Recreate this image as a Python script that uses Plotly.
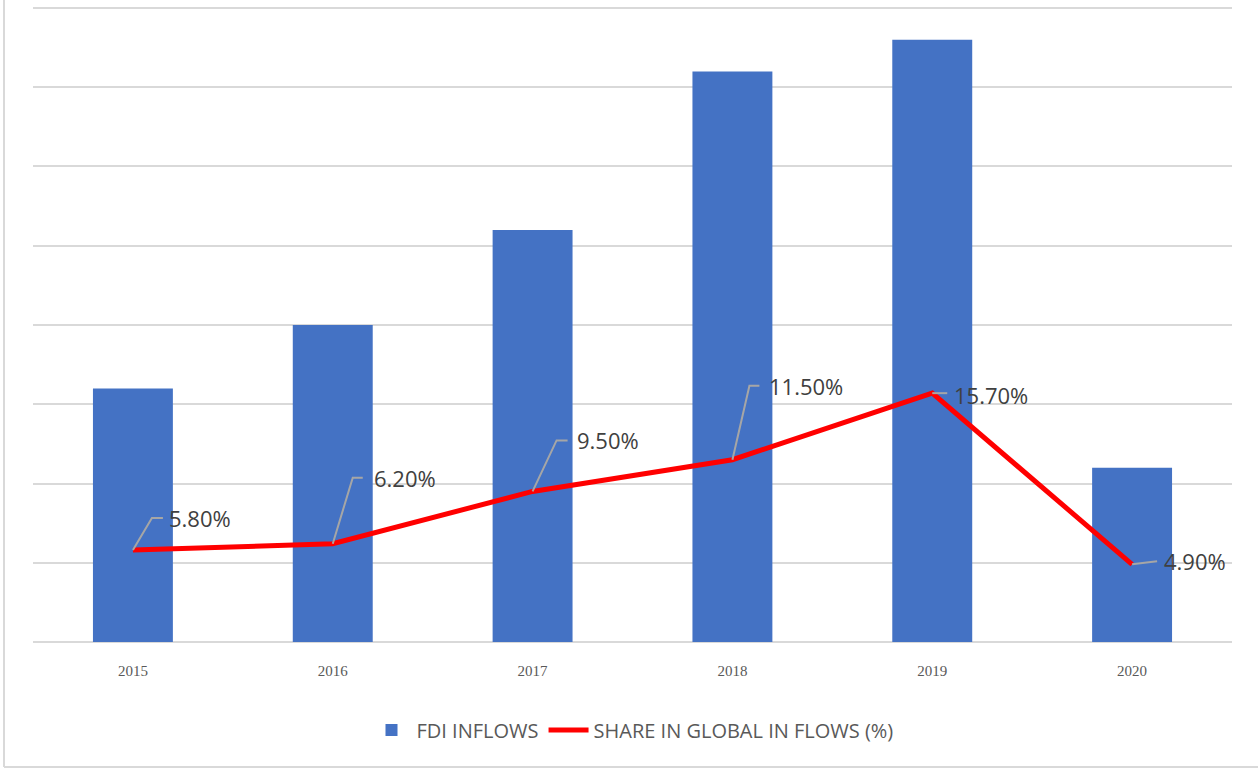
import plotly.graph_objects as go

# ---- data ----
years = ["2015", "2016", "2017", "2018", "2019", "2020"]
fdi_inflows = [32, 40, 52, 72, 76, 22]
share_pct = [5.8, 6.2, 9.5, 11.5, 15.7, 4.9]
share_labels = ["5.80%", "6.20%", "9.50%", "11.50%", "15.70%", "4.90%"]

# ---- label leader geometry (pixels, relative to point) ----
leader_dx = [19, 20, 24, 17, 0, 25]
leader_dy = [32, 66, 51, 74, 0, 3]
leader_h = [11, 10, 11, 10, 15, 0]
text_gap = [4, 9, 7, 8, 5, 5]
text_dy = [0, 0, 0, 0, -2, 0]

W, H = 1258, 769
ML, MR, MT, MB = 33, 26, 6, 127
PW, PH = W - ML - MR, H - MT - MB

xpos = list(range(len(years)))

fig = go.Figure()
fig.add_trace(go.Bar(
    x=xpos, y=fdi_inflows, name="FDI INFLOWS",
    marker=dict(color="#4472C4", line=dict(width=0)),
    yaxis="y",
))
fig.add_trace(go.Scatter(
    x=xpos, y=share_pct, name="SHARE IN GLOBAL IN FLOWS (%)",
    mode="lines", line=dict(color="#FF0000", width=5),
    yaxis="y2",
))

shapes = []
annotations = []
for i in xpos:
    dx, dy, h = leader_dx[i], leader_dy[i], leader_h[i]
    path = f"M0,0 L{dx},{dy} L{dx + h},{dy}"
    shapes.append(dict(
        type="path", xref="x", yref="y2",
        xsizemode="pixel", ysizemode="pixel",
        xanchor=i, yanchor=share_pct[i],
        path=path, line=dict(color="#A6A6A6", width=2),
        layer="above",
    ))
    annotations.append(dict(
        x=i, y=share_pct[i], xref="x", yref="y2",
        text=share_labels[i], showarrow=False,
        xanchor="left", yanchor="middle",
        xshift=dx + h + text_gap[i], yshift=dy + text_dy[i],
        font=dict(family="Open Sans", size=22, color="#404040"),
    ))

# outer frame (left and bottom edges of the chart area)
fx = (4 - ML) / PW
fy = (MT + PH - 767) / PH
ftop = (MT + PH) / PH
shapes.append(dict(type="line", xref="paper", yref="paper",
                   x0=fx, x1=fx, y0=fy, y1=ftop,
                   line=dict(color="#D9D9D9", width=2)))
shapes.append(dict(type="line", xref="paper", yref="paper",
                   x0=fx, x1=(W - ML) / PW, y0=fy, y1=fy,
                   line=dict(color="#D9D9D9", width=2)))

fig.update_layout(
    width=W, height=H,
    margin=dict(l=ML, r=MR, t=MT, b=MB),
    paper_bgcolor="white", plot_bgcolor="white",
    bargap=0.6,
    showlegend=True,
    legend=dict(
        orientation="h", x=0.5, xanchor="center",
        y=(MT + PH - 730) / PH, yanchor="middle",
        font=dict(family="Open Sans", size=20, color="#595959"),
        itemwidth=40, tracegroupgap=0,
    ),
    xaxis=dict(
        type="linear", range=[-0.5, len(years) - 0.5],
        tickmode="array", tickvals=xpos, ticktext=years,
        showgrid=False, zeroline=False, showline=False, ticks="",
        ticklabelstandoff=18,
        tickfont=dict(family="Liberation Serif", size=15, color="#595959"),
    ),
    yaxis=dict(
        range=[0, 80.25], dtick=10, showgrid=True, gridcolor="#D9D9D9",
        gridwidth=2, showticklabels=False,
        zeroline=True, zerolinecolor="#D9D9D9", zerolinewidth=2,
        showline=False, ticks="",
    ),
    yaxis2=dict(
        range=[0, 40.125], overlaying="y", side="right",
        showgrid=False, showticklabels=False, zeroline=False,
        showline=False, ticks="",
    ),
    shapes=shapes,
    annotations=annotations,
)

fig.write_html("out.html")
